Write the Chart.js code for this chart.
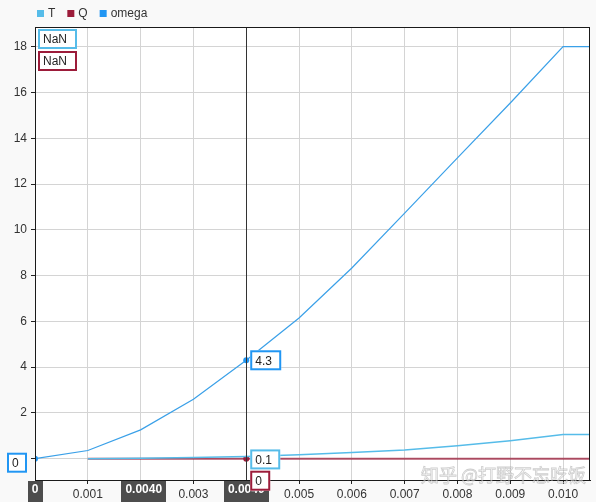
<!DOCTYPE html>
<html>
<head>
<meta charset="utf-8">
<script src="https://cdn.jsdelivr.net/npm/chart.js@4/dist/chart.umd.min.js"></script>
<style>
  html, body { margin: 0; padding: 0; background: #f9f9f9; }
  #wrap { width: 596px; height: 502px; }
</style>
</head>
<body>
<div id="wrap"><canvas id="chart" width="596" height="502"></canvas></div>
<script>
// data
const xValues = [0, 0.001, 0.002, 0.003, 0.004, 0.005, 0.006, 0.007, 0.008, 0.009, 0.010, 0.0105];
const tValues = [null, 0, 0.02, 0.05, 0.1, 0.17, 0.27, 0.38, 0.57, 0.79, 1.06, 1.06];
const qValues = [null, 0, 0, 0, 0, 0, 0, 0, 0, 0, 0, 0];
const omegaValues = [0, 0.36, 1.26, 2.6, 4.3, 6.15, 8.33, 10.73, 13.14, 15.54, 18, 18];
const xTicks = [0, 0.001, 0.002, 0.003, 0.004, 0.005, 0.006, 0.007, 0.008, 0.009, 0.010];
const yTicks = [0, 2, 4, 6, 8, 10, 12, 14, 16, 18];
const seriesNames = ['T', 'Q', 'omega'];
const seriesColors = ['#56bce9', '#9c1c3a', '#2196f3'];
const cursorX = 0.004;
const cursorIndex = 4;
const xTags = [{ x: 0, text: '0' }, { x: 0.00206, text: '0.0040' }, { x: 0.004, text: '0.0040' }];

const FONT = '"Liberation Sans", Arial, sans-serif';

function pts(ys) {
  return xValues.map((x, i) => ({ x: x, y: ys[i] }));
}

function box(ctx, x, y, w, h, color, text) {
  ctx.fillStyle = '#fff';
  ctx.fillRect(x, y, w, h);
  ctx.strokeStyle = color;
  ctx.lineWidth = 2;
  ctx.strokeRect(x + 1, y + 1, w - 2, h - 2);
  ctx.fillStyle = '#222';
  ctx.font = '12px ' + FONT;
  ctx.textAlign = 'left';
  ctx.textBaseline = 'middle';
  ctx.fillText(text, x + 5, y + h / 2 + 1);
}

const extras = {
  id: 'extras',
  beforeDraw(chart) {
    const a = chart.chartArea, ctx = chart.ctx;
    ctx.save();
    ctx.fillStyle = '#fff';
    ctx.fillRect(a.left, a.top, a.right - a.left, a.bottom - a.top);
    ctx.restore();
  },
  afterDatasetsDraw(chart) {
    const a = chart.chartArea, ctx = chart.ctx;
    const xs = chart.scales.x, ys = chart.scales.y;
    ctx.save();
    // crosshair
    const cx = Math.round(xs.getPixelForValue(cursorX)) + 0.5;
    ctx.strokeStyle = '#333';
    ctx.lineWidth = 1;
    ctx.beginPath();
    ctx.moveTo(cx, a.top);
    ctx.lineTo(cx, a.bottom);
    ctx.stroke();
    // frame
    ctx.strokeStyle = '#1a1a1a';
    ctx.strokeRect(a.left + 0.5, a.top + 0.5, a.right - a.left - 1, a.bottom - a.top);

    // legend
    ctx.font = '12px ' + FONT;
    ctx.textBaseline = 'middle';
    ctx.textAlign = 'left';
    let lx = 37;
    seriesNames.forEach((n, i) => {
      ctx.fillStyle = seriesColors[i];
      ctx.fillRect(lx, 10, 7, 7);
      ctx.fillStyle = '#333';
      ctx.fillText(n, lx + 11, 14);
      lx += 11 + ctx.measureText(n).width + 12;
    });

    // NaN boxes
    box(ctx, a.left + 3, a.top + 2, 39, 20, seriesColors[0], 'NaN');
    box(ctx, a.left + 3, a.top + 24, 39, 20, seriesColors[1], 'NaN');

    // x tags under the axis
    ctx.font = 'bold 12px ' + FONT;
    xTags.forEach(t => {
      const px = xs.getPixelForValue(t.x);
      const w = ctx.measureText(t.text).width + 8;
      ctx.fillStyle = '#4d4d4d';
      ctx.fillRect(Math.round(px - w / 2), a.bottom + 1, Math.round(w), 22);
      ctx.fillStyle = '#fff';
      ctx.textAlign = 'center';
      ctx.textBaseline = 'middle';
      ctx.fillText(t.text, px, a.bottom + 10);
    });

    // value boxes
    const p0 = ys.getPixelForValue(0);
    box(ctx, a.left - 28, p0 - 6, 20, 20, seriesColors[2], String(omegaValues[0]));
    const ox = xs.getPixelForValue(cursorX);
    box(ctx, ox + 4, ys.getPixelForValue(omegaValues[cursorIndex]) - 10, 31, 20, seriesColors[2], String(omegaValues[cursorIndex]));
    box(ctx, ox + 4, ys.getPixelForValue(tValues[cursorIndex]) - 7, 30, 20, seriesColors[0], String(tValues[cursorIndex]));
    box(ctx, ox + 4, p0 + 12, 20, 20, seriesColors[1], String(qValues[cursorIndex]));

    // watermark
    ctx.font = '18px "Noto Sans CJK SC", sans-serif';
    ctx.textAlign = 'left';
    ctx.textBaseline = 'alphabetic';
    ctx.lineWidth = 0.8;
    ctx.strokeStyle = 'rgba(130,130,130,0.4)';
    ctx.fillStyle = 'rgba(255,255,255,0.5)';
    ctx.fillText('知乎 @打野不忘吃饭', 421, 482);
    ctx.strokeText('知乎 @打野不忘吃饭', 421, 482);
    ctx.restore();
  }
};

new Chart(document.getElementById('chart'), {
  type: 'line',
  data: {
    datasets: [
      {
        label: seriesNames[0], data: pts(tValues), borderColor: seriesColors[0],
        borderWidth: 1.5, pointRadius: 0, tension: 0
      },
      {
        label: seriesNames[1], data: pts(qValues), borderColor: 'rgba(156,28,58,0.75)',
        backgroundColor: seriesColors[1], borderWidth: 2, tension: 0,
        pointRadius: ctx => ctx.dataIndex === cursorIndex ? 3 : 0,
        pointBorderWidth: 0
      },
      {
        label: seriesNames[2], data: pts(omegaValues), borderColor: '#3aa0e8',
        backgroundColor: seriesColors[2], borderWidth: 1.2, tension: 0,
        pointRadius: ctx => (ctx.dataIndex === 0 || ctx.dataIndex === cursorIndex) ? 3 : 0,
        pointBorderWidth: 0
      }
    ]
  },
  options: {
    responsive: false,
    animation: false,
    layout: { padding: { left: 0, top: 27, right: 6, bottom: 0 } },
    plugins: { legend: { display: false }, tooltip: { enabled: false } },
    scales: {
      x: {
        type: 'linear', min: 0, max: 0.01051,
        afterBuildTicks: s => { s.ticks = xTicks.map(v => ({ value: v })); },
        afterFit: s => { s.height = 22; },
        ticks: {
          color: '#333', font: { size: 12, family: FONT }, padding: 3, maxRotation: 0,
          callback: v => v === 0 ? '0' : v.toFixed(3)
        },
        grid: { color: '#d4d4d4', tickColor: '#222', tickLength: 4 },
        border: { color: '#1a1a1a' }
      },
      y: {
        type: 'linear', min: -0.93, max: 18.86,
        afterBuildTicks: s => { s.ticks = yTicks.map(v => ({ value: v })); },
        afterFit: s => { s.width = 35; },
        ticks: { color: '#333', font: { size: 12, family: FONT }, padding: 4 },
        grid: { color: '#d4d4d4', tickColor: '#222', tickLength: 4 },
        border: { color: '#1a1a1a' }
      }
    }
  },
  plugins: [extras]
});
</script>
</body>
</html>
